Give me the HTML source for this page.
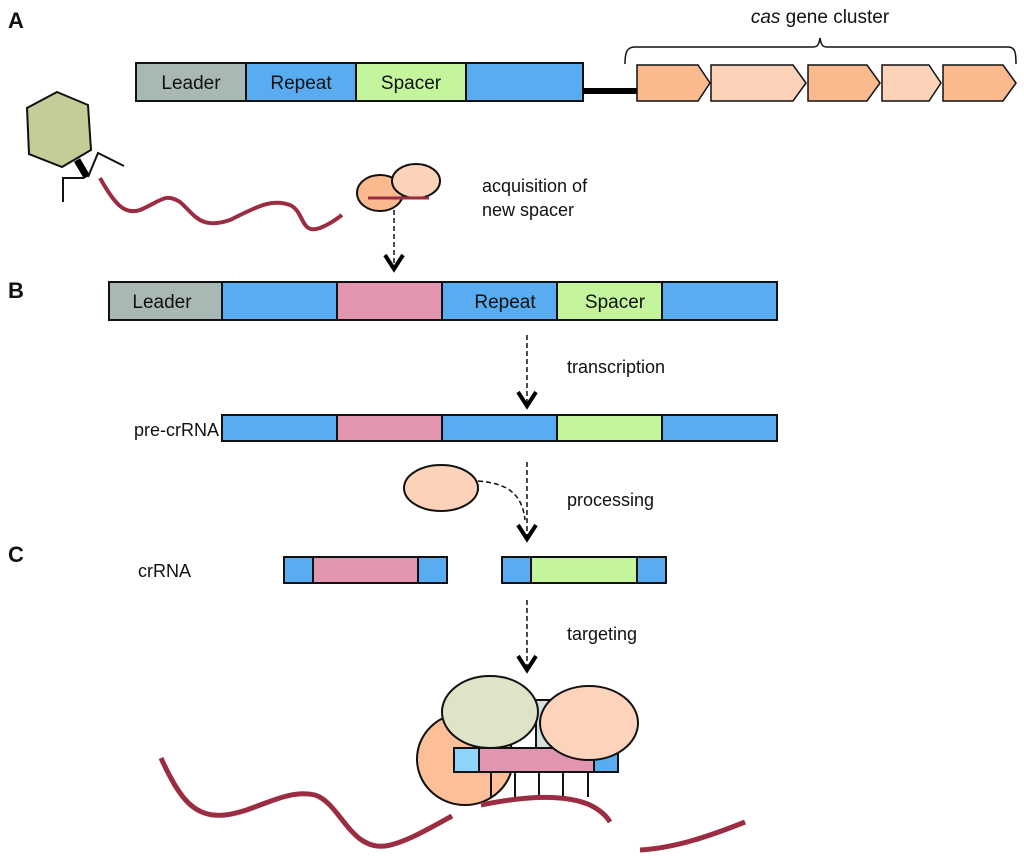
<!DOCTYPE html>
<html><head><meta charset="utf-8"><style>
html,body{margin:0;padding:0;background:#fff;}
svg{display:block;}
text{font-family:"Liberation Sans",Arial,sans-serif;fill:#111;}
</style></head><body>
<svg width="1024" height="860" viewBox="0 0 1024 860" xmlns="http://www.w3.org/2000/svg">
<g font-size="22" font-weight="bold"><text x="8" y="28">A</text><text x="8" y="298">B</text><text x="8" y="562">C</text></g>

<!-- Row A -->
<g stroke="#111" stroke-width="2">
<rect x="136" y="63" width="110" height="38" fill="#a8b8b4"/>
<rect x="246" y="63" width="110" height="38" fill="#5aacf0"/>
<rect x="356" y="63" width="110" height="38" fill="#c4f59c"/>
<rect x="466" y="63" width="117" height="38" fill="#5aacf0"/>
</g>
<line x1="583" y1="91" x2="638" y2="91" stroke="#000" stroke-width="6"/>
<g font-size="19"><text x="191" y="89" text-anchor="middle">Leader</text><text x="301" y="89" text-anchor="middle">Repeat</text><text x="411" y="89" text-anchor="middle">Spacer</text></g>
<g stroke="#111" stroke-width="1.5">
<polygon points="637,65 698,65 710,83 698,101 637,101" fill="#fbb98e"/>
<polygon points="711,65 793,65 806,83 793,101 711,101" fill="#fcd2b8"/>
<polygon points="808,65 867,65 880,83 867,101 808,101" fill="#fbb98e"/>
<polygon points="882,65 929,65 941,83 929,101 882,101" fill="#fcd2b8"/>
<polygon points="943,65 1003,65 1016,83 1003,101 943,101" fill="#fbb98e"/>
</g>
<path d="M625,64 C625,52 627,47 635,47 L813,47 C818,47 819,44 820,38 C821,44 822,47 827,47 L1008,47 C1015,47 1016,52 1016,64" fill="none" stroke="#111" stroke-width="1.5"/>
<text x="820" y="23" font-size="19" text-anchor="middle"><tspan font-style="italic">cas</tspan> gene cluster</text>

<!-- phage -->
<polygon points="57,92 88,105 91,150 62,167 29,154 27,108" fill="#c4cc98" stroke="#111" stroke-width="2"/>
<line x1="77" y1="160" x2="87" y2="177" stroke="#000" stroke-width="7"/>
<polyline points="63,202 63,178 84,178" fill="none" stroke="#111" stroke-width="2"/>
<polyline points="88,177 98,153 124,166" fill="none" stroke="#111" stroke-width="2"/>
<path d="M100,178 C115,205 125,215 140,210 C160,202 165,192 180,202 C195,215 200,230 230,220 C255,208 270,198 290,205 C305,212 300,235 320,228 C330,224 335,220 342,215" fill="none" stroke="#9b2d42" stroke-width="4"/>
<ellipse cx="380" cy="193" rx="23" ry="18" fill="#fbb98e" stroke="#111" stroke-width="2"/>
<ellipse cx="416" cy="181" rx="24" ry="17" fill="#fcd2b8" stroke="#111" stroke-width="2"/>
<line x1="368" y1="198" x2="429" y2="198" stroke="#9b2d42" stroke-width="3"/>
<g font-size="18"><text x="482" y="192">acquisition of</text><text x="482" y="216">new spacer</text></g>

<!-- dashed arrows -->
<g stroke="#111" stroke-width="1.5" stroke-dasharray="5,3" fill="none">
<line x1="394" y1="210" x2="394" y2="266"/>
<line x1="527" y1="335" x2="527" y2="402"/>
<line x1="527" y1="462" x2="527" y2="535"/>
<path d="M478,481 C505,483 522,492 525,520"/>
<line x1="527" y1="600" x2="527" y2="667"/>
</g>
<g stroke="#000" stroke-width="4" fill="none" stroke-linejoin="miter">
<polyline points="385,255 394,269 403,255"/>
<polyline points="518,392 527,406 536,392"/>
<polyline points="518,525 527,539 536,525"/>
<polyline points="518,656 527,670 536,656"/>
</g>

<!-- Row B -->
<g stroke="#111" stroke-width="2">
<rect x="109" y="282" width="113" height="38" fill="#a8b8b4"/>
<rect x="222" y="282" width="115" height="38" fill="#5aacf0"/>
<rect x="337" y="282" width="105" height="38" fill="#e295b0"/>
<rect x="442" y="282" width="115" height="38" fill="#5aacf0"/>
<rect x="557" y="282" width="105" height="38" fill="#c4f59c"/>
<rect x="662" y="282" width="115" height="38" fill="#5aacf0"/>
</g>
<g font-size="19"><text x="162" y="308" text-anchor="middle">Leader</text><text x="505" y="308" text-anchor="middle">Repeat</text><text x="615" y="308" text-anchor="middle">Spacer</text></g>
<text x="567" y="373" font-size="18">transcription</text>

<g stroke="#111" stroke-width="2">
<rect x="222" y="415" width="115" height="26" fill="#5aacf0"/>
<rect x="337" y="415" width="105" height="26" fill="#e295b0"/>
<rect x="442" y="415" width="115" height="26" fill="#5aacf0"/>
<rect x="557" y="415" width="105" height="26" fill="#c4f59c"/>
<rect x="662" y="415" width="115" height="26" fill="#5aacf0"/>
</g>
<text x="219" y="436" font-size="18" text-anchor="end">pre-crRNA</text>

<ellipse cx="441" cy="488" rx="37" ry="23" fill="#fcd2b8" stroke="#111" stroke-width="2"/>
<text x="567" y="506" font-size="18">processing</text>

<!-- crRNA -->
<g stroke="#111" stroke-width="2">
<rect x="284" y="557" width="29" height="26" fill="#5aacf0"/>
<rect x="313" y="557" width="105" height="26" fill="#e295b0"/>
<rect x="418" y="557" width="29" height="26" fill="#5aacf0"/>
<rect x="502" y="557" width="29" height="26" fill="#5aacf0"/>
<rect x="531" y="557" width="106" height="26" fill="#c4f59c"/>
<rect x="637" y="557" width="29" height="26" fill="#5aacf0"/>
</g>
<text x="138" y="577" font-size="18">crRNA</text>
<text x="567" y="640" font-size="18">targeting</text>

<!-- complex -->
<ellipse cx="465" cy="759" rx="48" ry="46" fill="#fdbf98" stroke="#111" stroke-width="2"/>
<rect x="536" y="700" width="65" height="50" fill="#d5e0dc" stroke="#111" stroke-width="2"/>
<ellipse cx="490" cy="712" rx="48" ry="36" fill="#dfe4c8" stroke="#111" stroke-width="2"/>
<g stroke="#111" stroke-width="2">
<rect x="454" y="748" width="25" height="24" fill="#8fd4fc"/>
<rect x="479" y="748" width="115" height="24" fill="#e295b0"/>
<rect x="594" y="748" width="24" height="24" fill="#5aacf0"/>
</g>
<ellipse cx="589" cy="723" rx="49" ry="37" fill="#fdd3bb" stroke="#111" stroke-width="2"/>
<g stroke="#111" stroke-width="2">
<line x1="491" y1="772" x2="491" y2="797"/><line x1="515" y1="772" x2="515" y2="797"/><line x1="539" y1="772" x2="539" y2="797"/><line x1="563" y1="772" x2="563" y2="797"/><line x1="588" y1="772" x2="588" y2="797"/>
</g>
<g fill="none" stroke="#9b2d42" stroke-width="5">
<path d="M161,758 C180,800 195,818 225,815 C255,812 285,788 315,795 C340,803 350,850 385,846 C405,843 430,828 452,816"/>
<path d="M481,805 C515,798 560,792 590,805 C600,810 606,815 610,822"/>
<path d="M640,850 C675,848 710,836 745,822"/>
</g>
</svg>
</body></html>
